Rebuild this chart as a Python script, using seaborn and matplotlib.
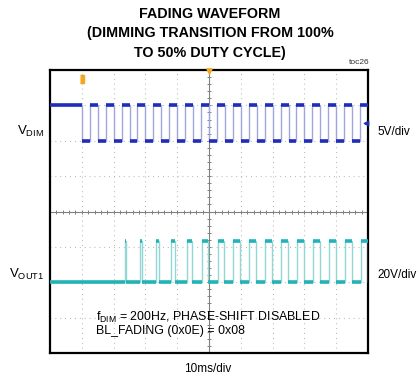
import numpy as np
import pandas as pd
import matplotlib
matplotlib.use("Agg")
import matplotlib.pyplot as plt
import seaborn as sns
from matplotlib import font_manager

# ---------------- data ----------------
title_lines = ["FADING WAVEFORM", "(DIMMING TRANSITION FROM 100%", "TO 50% DUTY CYCLE)"]
n_xdiv = 10
n_ydiv = 8
time_per_div_ms = 10
vdim_volts_per_div = 5
vout_volts_per_div = 20
vdim_zero_div = 6          # screen division of VDIM ground
vout_zero_div = 2          # screen division of VOUT1 ground
vdim_high_v = 5.0
vdim_low_v = 0.0
vout_high_v = 23.5
vout_low_v = 0.0
vdim_first_fall_ms = 10.0
vdim_high_starts_ms = [12.5, 17.5, 22.5, 27.5, 32.5, 37.5, 42.5, 47.5, 52.5,
                       57.5, 62.5, 67.5, 72.5, 77.5, 82.5, 87.5, 92.5, 97.5]
vdim_high_width_ms = 2.5
vout_pulse_width_ms = [0.0, 0.0, 0.3, 0.6, 1.0, 1.3, 1.5, 1.8, 2.0,
                       2.2, 2.2, 2.2, 2.2, 2.2, 2.2, 2.2, 2.2, 2.2]
label_vdim = r"V$_{\mathregular{DIM}}$"
label_vout = r"V$_{\mathregular{OUT1}}$"
scale_vdim = "5V/div"
scale_vout = "20V/div"
time_scale = "10ms/div"
note_lines = [r"f$_{\mathregular{DIM}}$ = 200Hz, PHASE-SHIFT DISABLED", "BL_FADING (0x0E) = 0x08"]
toc_label = "toc26"

# ---------------- fonts ----------------
sns.set_style("white")
names = {f.name for f in font_manager.fontManager.ttflist}
narrow = "Liberation Sans Narrow" if "Liberation Sans Narrow" in names else "Liberation Sans"
plt.rcParams["font.family"] = ["Liberation Sans", "DejaVu Sans"]
plt.rcParams["text.color"] = "black"
plt.rcParams["mathtext.fontset"] = "custom"
plt.rcParams["mathtext.rm"] = "Liberation Sans"
plt.rcParams["mathtext.it"] = "Liberation Sans"

# ---------------- waveforms ----------------
t_end = n_xdiv * time_per_div_ms
vdim_t = [0.0, vdim_first_fall_ms, vdim_first_fall_ms]
vdim_v = [vdim_high_v, vdim_high_v, vdim_low_v]
for s in vdim_high_starts_ms:
    e = min(s + vdim_high_width_ms, t_end)
    vdim_t += [s, s, e, e]
    vdim_v += [vdim_low_v, vdim_high_v, vdim_high_v, vdim_low_v if e < t_end else vdim_high_v]

vout_t = [0.0]
vout_v = [vout_low_v]
for s, w in zip(vdim_high_starts_ms, vout_pulse_width_ms):
    if w <= 0:
        continue
    c = s + vdim_high_width_ms / 2
    a, b = c - w / 2, c + w / 2
    vout_t += [a, a, b, b]
    vout_v += [vout_low_v, vout_high_v, vout_high_v, vout_low_v]
vout_t.append(t_end)
vout_v.append(vout_low_v)

df_dim = pd.DataFrame({"t": np.array(vdim_t) / time_per_div_ms,
                       "y": vdim_zero_div + np.array(vdim_v) / vdim_volts_per_div})
df_out = pd.DataFrame({"t": np.array(vout_t) / time_per_div_ms,
                       "y": vout_zero_div + np.array(vout_v) / vout_volts_per_div})

# ---------------- figure ----------------
W, H = 420, 380
fig = plt.figure(figsize=(W / 100, H / 100), dpi=100)
L, R, T, B = 50, 368, 70, 353
ax = fig.add_axes([L / W, 1 - B / H, (R - L) / W, (B - T) / H])
ax.set_xlim(0, n_xdiv)
ax.set_ylim(0, n_ydiv)
ax.set_xticks([])
ax.set_yticks([])
for sp in ax.spines.values():
    sp.set_linewidth(1.6)
    sp.set_color("black")

# grid
gcol = "#b0b0b0"
for x in range(1, n_xdiv):
    if x != n_xdiv // 2:
        ax.axvline(x, color=gcol, lw=0.8, ls=(0, (0.8, 3.6)), zorder=1)
for y in range(1, n_ydiv):
    if y != n_ydiv // 2:
        ax.axhline(y, color=gcol, lw=0.8, ls=(0, (0.8, 3.6)), zorder=1)
ccol = "#808080"
ax.axvline(n_xdiv / 2, color=ccol, lw=0.8, zorder=1)
ax.axhline(n_ydiv / 2, color=ccol, lw=0.8, zorder=1)
tx = np.arange(0, n_xdiv + 0.01, 0.2)
ty = np.arange(0, n_ydiv + 0.01, 0.2)
ax.scatter(tx, np.full_like(tx, n_ydiv / 2), marker="|", s=12, lw=0.7, color=ccol, zorder=1)
ax.scatter(np.full_like(ty, n_xdiv / 2), ty, marker="_", s=12, lw=0.7, color=ccol, zorder=1)

# traces
def draw(df, light, dark):
    sns.lineplot(data=df, x="t", y="y", sort=False, estimator=None, ax=ax,
                 color=light, lw=1.0, zorder=3, legend=False)
    tt, yy = df["t"].to_numpy(), df["y"].to_numpy()
    for i in range(len(tt) - 1):
        if yy[i] == yy[i + 1] and tt[i + 1] > tt[i]:
            ax.plot([tt[i], tt[i + 1]], [yy[i], yy[i]], color=dark, lw=2.6,
                    solid_capstyle="butt", zorder=4)

draw(df_dim, "#9ea6dc", "#1f2db8")
draw(df_out, "#93d6d6", "#22b4b4")

# markers
trig = [(-0.5, -1), (0.5, -1), (0.5, 1), (-0.5, 1)]
ax.scatter([vdim_first_fall_ms / time_per_div_ms], [7.75], marker=trig, s=40,
           color="#f5a623", zorder=5, clip_on=False)
ax.scatter([n_xdiv / 2], [n_ydiv - 0.02], marker="v", s=14, color="#f5a623",
           zorder=5, clip_on=False)
ax.scatter([n_xdiv - 0.06], [vdim_zero_div + 0.5], marker="<", s=10,
           color="#1f2db8", zorder=5, clip_on=False)
ax.set_xlabel("")
ax.set_ylabel("")

# texts
def ftext(x, y, s, **kw):
    fig.text(x / W, 1 - y / H, s, **kw)

for i, line in enumerate(title_lines):
    ftext(210, 14 + 19.5 * i, line, ha="center", va="center", fontsize=10.3,
          fontweight="bold", family=[narrow, "DejaVu Sans"])
ftext(370, 62, toc_label, ha="right", va="center", fontsize=6, color="#333333")
ftext(44, 131, label_vdim, ha="right", va="center", fontsize=9.5)
ftext(44, 274, label_vout, ha="right", va="center", fontsize=9.5)
ftext(377, 132, scale_vdim, ha="left", va="center", fontsize=8.5)
ftext(377, 275, scale_vout, ha="left", va="center", fontsize=8.5)
ftext(96, 317, note_lines[0], ha="left", va="center", fontsize=8.9)
ftext(96, 331, note_lines[1], ha="left", va="center", fontsize=8.9)
ftext(208, 369, time_scale, ha="center", va="center", fontsize=8.5)

fig.savefig("out.png", dpi=100, facecolor="white")
